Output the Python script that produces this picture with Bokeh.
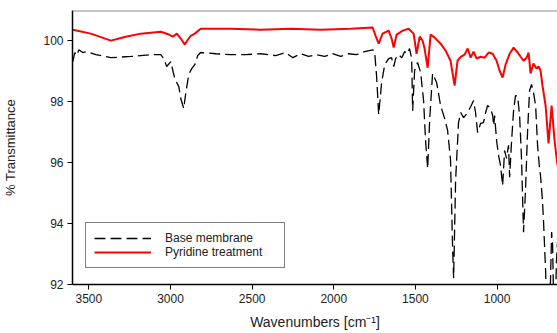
from bokeh.plotting import figure
from bokeh.models import Range1d, FixedTicker, Span, Legend, LegendItem
from bokeh.embed import file_html
from bokeh.resources import INLINE

# Base membrane spectrum (wavenumber cm^-1, % transmittance)
base_wn = [3598, 3586, 3573, 3561, 3537, 3512, 3457, 3365, 3243, 3121, 3059, 3041, 3023, 2998,
           2974, 2949, 2937, 2919, 2906, 2888, 2870, 2851, 2833, 2815, 2723, 2631, 2539, 2447,
           2356, 2294, 2251, 2203, 2154, 2105, 2056, 2007, 1958, 1909, 1860, 1811, 1762, 1750,
           1738, 1725, 1707, 1688, 1664, 1646, 1633, 1621, 1603, 1584, 1566, 1548, 1536, 1523,
           1517, 1505, 1487, 1468, 1450, 1438, 1425, 1413, 1395, 1370, 1346, 1321, 1303, 1285,
           1272, 1266, 1254, 1236, 1223, 1205, 1180, 1162, 1144, 1132, 1119, 1101, 1083, 1070,
           1058, 1040, 1027, 1021, 1015, 1003, 991, 979, 966, 960, 954, 942, 930, 923, 911, 899,
           887, 874, 862, 850, 838, 826, 813, 801, 789, 777, 764, 752, 740, 734, 722, 715, 703,
           697, 685, 673, 666, 660, 654, 642, 636, 630]
base_t = [99.32, 99.62, 99.52, 99.71, 99.62, 99.65, 99.55, 99.45, 99.49, 99.55, 99.55, 99.42,
          99.16, 99.32, 98.76, 98.50, 98.11, 97.78, 98.30, 98.90, 99.09, 99.22, 99.52, 99.62,
          99.58, 99.55, 99.55, 99.58, 99.52, 99.62, 99.45, 99.58, 99.49, 99.55, 99.49, 99.58,
          99.49, 99.58, 99.55, 99.65, 99.71, 99.65, 98.86, 97.58, 98.63, 99.22, 99.42, 99.45,
          99.16, 99.42, 99.55, 99.45, 99.65, 99.58, 99.75, 99.42, 97.71, 99.03, 99.29, 98.96,
          98.04, 96.73, 95.81, 97.39, 98.93, 98.63, 97.88, 97.45, 97.06, 96.08, 93.13, 92.21,
          95.42, 97.32, 97.65, 97.48, 97.65, 97.84, 98.04, 97.65, 96.99, 97.29, 97.32, 97.65,
          97.88, 97.78, 97.55, 97.22, 97.55, 96.73, 96.24, 95.91, 95.25, 95.81, 96.40, 96.14,
          96.57, 95.52, 96.73, 97.71, 98.21, 98.17, 97.55, 96.08, 93.72, 95.09, 97.06, 98.37,
          98.57, 98.30, 97.88, 96.57, 95.81, 95.58, 94.76, 94.01, 92.47, 91.50, 91.20, 92.10,
          93.72, 93.30, 91.50, 91.50, 92.80, 93.40]

# Pyridine treatment spectrum
pyr_wn = [3598, 3488, 3365, 3274, 3182, 3059, 3010, 2986, 2961, 2937, 2912, 2894, 2876, 2851,
          2815, 2631, 2447, 2264, 2080, 1897, 1762, 1744, 1725, 1701, 1664, 1646, 1633, 1615,
          1578, 1542, 1511, 1493, 1474, 1456, 1444, 1425, 1407, 1382, 1346, 1315, 1285, 1260,
          1242, 1223, 1199, 1180, 1162, 1144, 1125, 1101, 1076, 1052, 1027, 1003, 985, 966,
          948, 923, 899, 874, 856, 838, 819, 807, 795, 777, 758, 746, 734, 722, 703, 685, 666,
          648, 630]
pyr_t = [100.37, 100.24, 100.01, 100.14, 100.24, 100.30, 100.21, 100.14, 100.24, 100.08, 99.88,
         100.04, 100.17, 100.24, 100.40, 100.40, 100.37, 100.40, 100.37, 100.40, 100.44, 100.17,
         99.91, 100.24, 100.34, 100.08, 99.78, 100.21, 100.34, 100.40, 100.24, 99.58, 100.14,
         100.01, 99.75, 99.12, 100.21, 100.11, 99.91, 99.68, 99.35, 98.53, 99.35, 99.48, 99.55,
         99.75, 99.45, 99.65, 99.42, 99.48, 99.45, 99.62, 99.58, 99.35, 99.03, 98.80, 99.22,
         99.58, 99.78, 99.62, 99.48, 99.35, 99.45, 99.62, 98.93, 99.26, 99.09, 99.16, 99.03,
         98.53, 97.88, 96.63, 97.88, 96.73, 95.91]

y_ticks = [92, 94, 96, 98, 100]
x_ticks = [3500, 3000, 2500, 2000, 1500, 1000]
series_names = ["Base membrane", "Pyridine treatment"]

FONT = "Liberation Sans"

p = figure(width=557, height=333, output_backend="svg", toolbar_location=None,
           x_range=Range1d(3600, 630), y_range=Range1d(92, 101),
           min_border_left=72, min_border_right=0, min_border_top=10, min_border_bottom=49,
           background_fill_color="white", border_fill_color="white")
p.outline_line_color = None
p.xgrid.visible = False
p.ygrid.visible = False

r_base = p.line(base_wn, base_t, line_color="black", line_width=1.3, line_dash="11 5")
r_pyr = p.line(pyr_wn, pyr_t, line_color="#ff0000", line_width=2)

p.add_layout(Span(location=101, dimension="width", line_color="#8c8c8c", line_width=2))

for ax in (p.xaxis[0], p.yaxis[0]):
    ax.axis_line_color = "black"
    ax.axis_line_width = 1.5
    ax.major_tick_line_color = "black"
    ax.major_tick_in = 0
    ax.major_tick_out = 5
    ax.minor_tick_line_color = None
    ax.major_label_text_font = FONT
    ax.major_label_text_font_size = "12px"
    ax.major_label_text_color = "#222222"
    ax.axis_label_text_font = FONT
    ax.axis_label_text_font_size = "13px"
    ax.axis_label_text_font_style = "normal"
    ax.axis_label_text_color = "#222222"

p.xaxis.axis_label_text_font_size = "14px"
p.xaxis.ticker = FixedTicker(ticks=x_ticks)
p.yaxis.ticker = FixedTicker(ticks=y_ticks)
p.xaxis.axis_label = "Wavenumbers [cm\u207b\u00b9]"
p.yaxis.axis_label = "% Transmittance"
p.xaxis.major_label_standoff = 4
p.yaxis.major_label_standoff = 4
p.xaxis.axis_label_standoff = 8
p.yaxis.axis_label_standoff = 22

legend = Legend(items=[LegendItem(label=series_names[0], renderers=[r_base]),
                       LegendItem(label=series_names[1], renderers=[r_pyr])],
                location=(13, 16), orientation="vertical",
                border_line_color="black", border_line_width=1,
                background_fill_alpha=1, padding=8, spacing=0, margin=0,
                glyph_width=57, glyph_height=12, label_height=12, label_width=111,
                label_standoff=14, label_text_font=FONT, label_text_font_size="12px",
                label_text_color="#222222")
p.add_layout(legend)

open("out.html", "w").write(file_html(p, INLINE))
